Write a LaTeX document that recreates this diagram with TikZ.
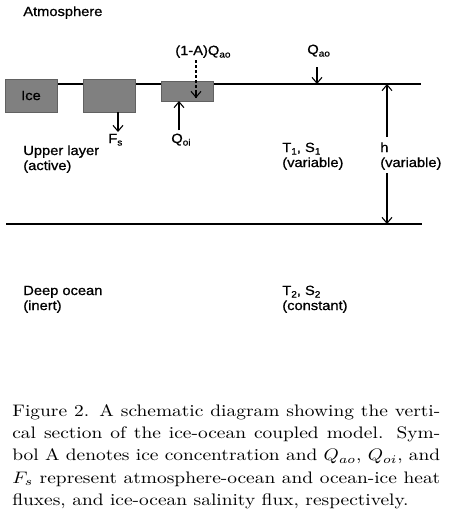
\documentclass[tikz,border=0pt]{standalone}
\usepackage{fontspec}
\newfontfamily\diagfont[FakeStretch=1.1,FakeBold=0.8]{Liberation Sans}
\usetikzlibrary{arrows.meta,fit}
\newcommand\sbs[1]{\raisebox{-1.5pt}{\fontsize{5.5}{5.5}\selectfont #1}}
\newcommand\dualline[2]{\vtop{\hbox{\strut #1}\hbox{#2}}}
\begin{document}
\begin{tikzpicture}[x=0.6pt,y=-0.6pt,
  lbl/.style={font=\diagfont\fontsize{8}{7.4}\selectfont, inner sep=0pt, anchor=base west},
  icebox/.style={fill=black!50, draw=black!62, line width=0.5pt, inner sep=0pt},
  surf/.style={line width=1.1pt},
  arr/.style={line width=0.65pt, -{Straight Barb[length=3.5pt,width=6pt]}},
  dsh/.style={line width=1pt, dash pattern=on 1.8pt off 1.2pt}]
\useasboundingbox (0,0) rectangle (450,520);
% layer lines
\coordinate (surfL) at (5,84);
\coordinate (surfR) at (421,84);
\coordinate (botL) at (6,224);
\coordinate (botR) at (422,224);
\draw[surf] (surfL) -- (surfR);
\draw[surf] (botL) -- (botR);
% ice floes
\node[icebox, fit={(5,79) (57,112)}, label={[lbl, anchor=center]center:Ice}] (ice1) {};
\node[icebox, fit={(83,79) (135,112)}] (ice2) {};
\node[icebox, fit={(161,81) (213,101)}] (ice3) {};
% labels
\node[lbl] (atm) at (23,16) {Atmosphere};
\node[lbl] (upper) at (23,155) {\dualline{Upper layer}{(active)}};
\node[lbl] (t1) at (282,152) {\dualline{T\sbs{1}, S\sbs{1}}{(variable)}};
\node[lbl] (hlab) at (380,152) {\dualline{h}{(variable)}};
\node[lbl] (deep) at (23,295) {\dualline{Deep ocean}{(inert)}};
\node[lbl] (t2) at (282,295) {\dualline{T\sbs{2}, S\sbs{2}}{(constant)}};
\node[lbl] (qao) at (307,54) {Q\sbs{ao}};
\node[lbl] (qaoA) at (175,55) {(1-A)Q\sbs{ao}};
\node[lbl] (fs) at (108,143) {F\sbs{s}};
\node[lbl] (qoi) at (171,143) {Q\sbs{oi}};
% arrows
\coordinate (qaoS) at (317,67);
\coordinate (qaoE) at (317,84);
\draw[arr] (qaoS) -- (qaoE);
\coordinate (dS) at (196,60);
\coordinate (dE) at (196,98);
\draw[dsh] (dS) -- (dE);
\draw[arr] (196,92) -- (dE);
\coordinate (fsS) at (118,112);
\coordinate (fsE) at (118,132);
\draw[arr] (fsS) -- (fsE);
\coordinate (qoiS) at (179,130);
\coordinate (qoiE) at (179,101);
\draw[arr] (qoiS) -- (qoiE);
\coordinate (hA) at (387,137);
\coordinate (hTop) at (387,84);
\coordinate (hB) at (387,173);
\coordinate (hBot) at (387,224);
\draw[arr] (hA) -- (hTop);
\draw[arr] (hB) -- (hBot);
% caption
\node[anchor=base west, inner sep=0pt] (cap) at (12,416) {\scalebox{1.165}[1]{\vtop{\hsize=220.4pt\parindent=0pt\fontsize{10}{13.4}\selectfont
Figure 2. A schematic diagram showing the verti-\linebreak
cal section of the ice-ocean coupled model. Sym-\linebreak
bol A denotes ice concentration and $Q_{ao}$, $Q_{oi}$, and\linebreak
$F_s$ represent atmosphere-ocean and ocean-ice heat\linebreak
fluxes, and ice-ocean salinity flux, respectively.\par}}};
\end{tikzpicture}
\end{document}
